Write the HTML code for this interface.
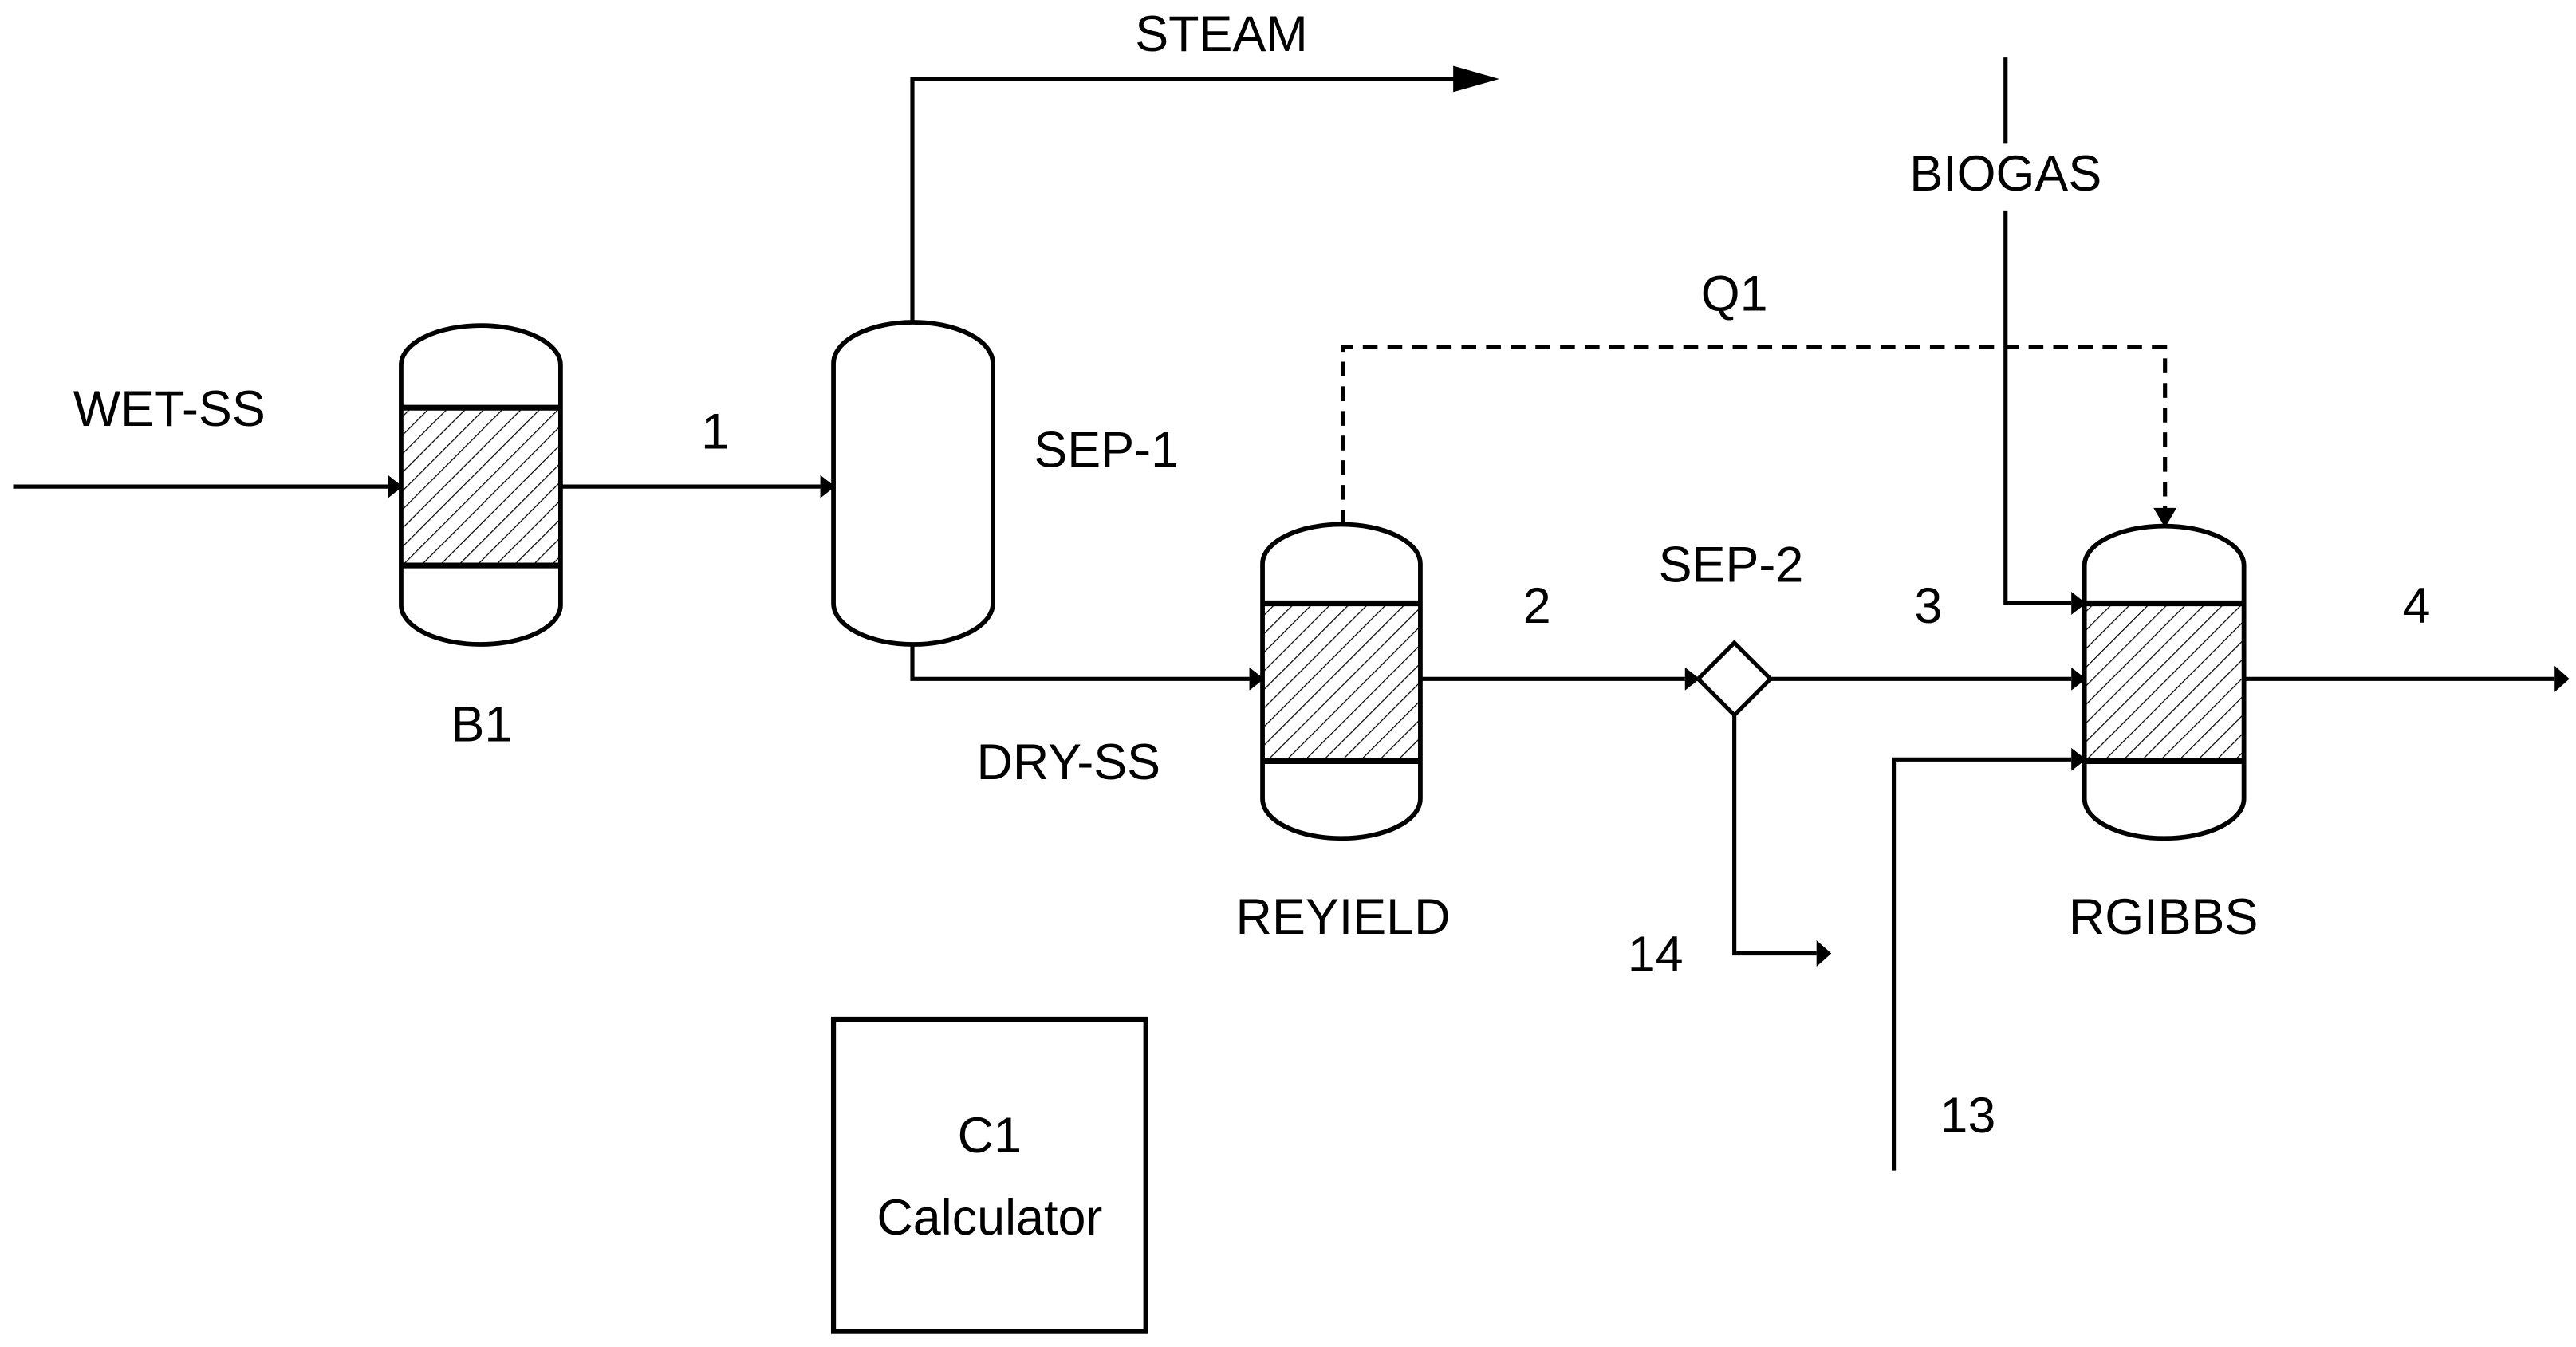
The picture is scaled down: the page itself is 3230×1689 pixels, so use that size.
<!DOCTYPE html>
<html><head><meta charset="utf-8"><style>
html,body{margin:0;padding:0;background:#fff;}
svg{display:block;}
text{font-family:"Liberation Sans",sans-serif;font-size:30.5px;fill:#000;text-anchor:middle;}
</style></head><body>
<svg width="3230" height="1689" viewBox="0 0 1567 819.4" preserveAspectRatio="none" xmlns="http://www.w3.org/2000/svg">
<defs>
<pattern id="h" patternUnits="userSpaceOnUse" width="8" height="8" patternTransform="rotate(45)">
<line x1="0" y1="0" x2="0" y2="8" stroke="#000" stroke-width="1.2"/>
</pattern>
</defs>
<g fill="none" stroke="#000" stroke-width="2.5">
<line x1="8" y1="296" x2="236" y2="296"/>
<line x1="341" y1="296" x2="499" y2="296"/>
<polyline points="555,196 555,48 888,48"/>
<polyline points="555,392 555,413 760,413"/>
<line x1="864" y1="413" x2="1025" y2="413"/>
<line x1="1077" y1="413" x2="1260" y2="413"/>
<polyline points="1055,435 1055,580 1105,580"/>
<line x1="1365" y1="413" x2="1554" y2="413"/>
<line x1="1220" y1="35" x2="1220" y2="87"/>
<polyline points="1220,128 1220,367 1260,367"/>
<polyline points="1152,712 1152,462 1260,462"/>
<polyline points="817,319 817,211 1317,211 1317,310" stroke-dasharray="9,6"/>
</g>
<g fill="#000">
<polygon points="236,289 245,296 236,303"/>
<polygon points="499,289 508,296 499,303"/>
<polygon points="884,40 912,48 884,56"/>
<polygon points="760,406 769,413 760,420"/>
<polygon points="1025,406 1034,413 1025,420"/>
<polygon points="1260,406 1269,413 1260,420"/>
<polygon points="1260,360 1269,367 1260,374"/>
<polygon points="1260,455 1269,462 1260,469"/>
<polygon points="1105,572 1114,580 1105,588"/>
<polygon points="1554,405 1563,413 1554,421"/>
<polygon points="1310,309 1317,321 1324,309"/>
</g>
<g stroke="#000" stroke-width="2.8">
<rect x="244" y="248" width="97" height="96" fill="url(#h)" stroke="none"/>
<path d="M244,222 A48.5,24 0 0 1 341,222 L341,368 A48.5,24 0 0 1 244,368 Z" fill="none"/>
<line x1="244" y1="248" x2="341" y2="248" stroke-width="3.5"/>
<line x1="244" y1="344" x2="341" y2="344" stroke-width="3.5"/>
<path d="M507,221 A48.5,25 0 0 1 604,221 L604,367 A48.5,25 0 0 1 507,367 Z" fill="#fff"/>
<rect x="768" y="367" width="96" height="96" fill="url(#h)" stroke="none"/>
<path d="M768,343 A48,24 0 0 1 864,343 L864,486 A48,24 0 0 1 768,486 Z" fill="none"/>
<line x1="768" y1="367" x2="864" y2="367" stroke-width="3.5"/>
<line x1="768" y1="463" x2="864" y2="463" stroke-width="3.5"/>
<rect x="1268" y="367" width="97" height="96" fill="url(#h)" stroke="none"/>
<path d="M1268,344 A48.5,24 0 0 1 1365,344 L1365,486 A48.5,24 0 0 1 1268,486 Z" fill="none"/>
<line x1="1268" y1="367" x2="1365" y2="367" stroke-width="3.5"/>
<line x1="1268" y1="463" x2="1365" y2="463" stroke-width="3.5"/>
<polygon points="1055,391 1077,413 1055,435 1033,413" fill="#fff" stroke-width="2.5"/>
<rect x="507" y="620" width="190" height="190" fill="none" stroke-width="3"/>
</g>
<text x="743" y="31">STEAM</text>
<text x="1220" y="116">BIOGAS</text>
<text x="1055" y="189">Q1</text>
<text x="103" y="259">WET-SS</text>
<text x="435" y="273">1</text>
<text x="673" y="284">SEP-1</text>
<text x="1053" y="354">SEP-2</text>
<text x="935" y="379">2</text>
<text x="1173" y="379">3</text>
<text x="1470" y="379">4</text>
<text x="293" y="451">B1</text>
<text x="650" y="474">DRY-SS</text>
<text x="817" y="568">REYIELD</text>
<text x="1316" y="568">RGIBBS</text>
<text x="1007" y="591">14</text>
<text x="1197" y="689">13</text>
<text x="602" y="701">C1</text>
<text x="602" y="751">Calculator</text>
</svg>
</body></html>
